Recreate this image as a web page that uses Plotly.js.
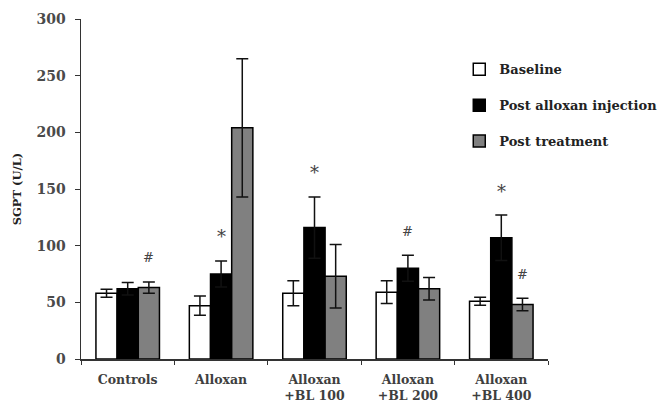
<!DOCTYPE html>
<html>
<head>
<meta charset="utf-8">
<script src="https://cdn.plot.ly/plotly-3.0.1.min.js"></script>
<style>html,body{margin:0;padding:0;background:#fff;}#chart{width:663px;height:405px;}</style>
</head>
<body>
<div id="chart"></div>
<script>
// ---- data ----
const categories = ["Controls", "Alloxan", "Alloxan<br>+BL 100", "Alloxan<br>+BL 200", "Alloxan<br>+BL 400"];
const baseline = [58, 47, 58, 59, 51];
const baselineErr = [3.5, 8.5, 11, 10, 3.5];
const postAlloxan = [62, 75, 116, 80, 107];
const postAlloxanErr = [5.5, 11.5, 27, 11.5, 20];
const postTreatment = [63, 204, 73, 62, 48];
const postTreatmentErr = [5, 61, 28, 10, 5.5];
const seriesNames = ["Baseline", "Post alloxan injection", "Post treatment"];
// significance marks: [category index, series index, symbol]
const marks = [[0, 2, "#"], [1, 1, "*"], [2, 1, "*"], [3, 1, "#"], [4, 1, "*"], [4, 2, "#"]];

const values = [baseline, postAlloxan, postTreatment];
const errs = [baselineErr, postAlloxanErr, postTreatmentErr];
const fills = ["#ffffff", "#000000", "#808080"];

const FONT = "DejaVu Serif, serif";
const TXT = "#3f3f3f";

const plotW = 467, nCat = categories.length, bargap = 0.32;
const barPx = plotW / nCat * (1 - bargap) / 3;

const traces = values.map((v, s) => ({
  type: "bar",
  name: seriesNames[s],
  x: categories,
  y: v,
  legendgroup: "g" + s,
  marker: {color: fills[s], line: {color: "#000", width: 1.5}},
  error_y: {type: "data", array: errs[s], visible: true, color: "#111", thickness: 1.5, width: 6}
}));

const annotations = marks.map(([c, s, sym]) => ({
  x: categories[c], y: values[s][c] + errs[s][c],
  xref: "x", yref: "y",
  text: sym, showarrow: false,
  xshift: (s - 1) * barPx, yshift: 24,
  font: {family: FONT, size: sym === "*" ? 18 : 13, color: "#444"}
}));

const layout = {
  width: 663, height: 405,
  margin: {l: 81, r: 115, t: 19, b: 46, autoexpand: false},
  paper_bgcolor: "#fff", plot_bgcolor: "#fff",
  barmode: "group", bargap: bargap, bargroupgap: 0,
  font: {family: FONT, color: TXT},
  showlegend: true,
  legend: {x: 0.81, y: 0.896, xanchor: "left", yanchor: "top",
    font: {family: FONT, size: 13, color: "#222", weight: "bold"},
    tracegroupgap: 16, bgcolor: "rgba(0,0,0,0)", itemwidth: 30},
  xaxis: {type: "category", tickson: "boundaries", ticks: "outside", ticklen: 4,
    tickcolor: "#333", showline: true, linecolor: "#333", linewidth: 1.5,
    ticklabelstandoff: 8,
    tickfont: {family: FONT, size: 12.5, color: TXT, weight: "bold"}, showgrid: false},
  yaxis: {range: [0, 300], dtick: 50, ticks: "outside", ticklen: 5, tickcolor: "#333",
    showline: true, linecolor: "#333", linewidth: 1.5, showgrid: false, zeroline: false,
    ticklabelstandoff: 6,
    tickfont: {family: FONT, size: 14, color: "#4a4a4a", weight: "bold"},
    title: {text: "SGPT (U/L)", font: {family: FONT, size: 11.5, color: "#222", weight: "bold"}, standoff: 12}},
  annotations: annotations
};

Plotly.newPlot("chart", traces, layout, {displayModeBar: false, staticPlot: true});
</script>
</body>
</html>
